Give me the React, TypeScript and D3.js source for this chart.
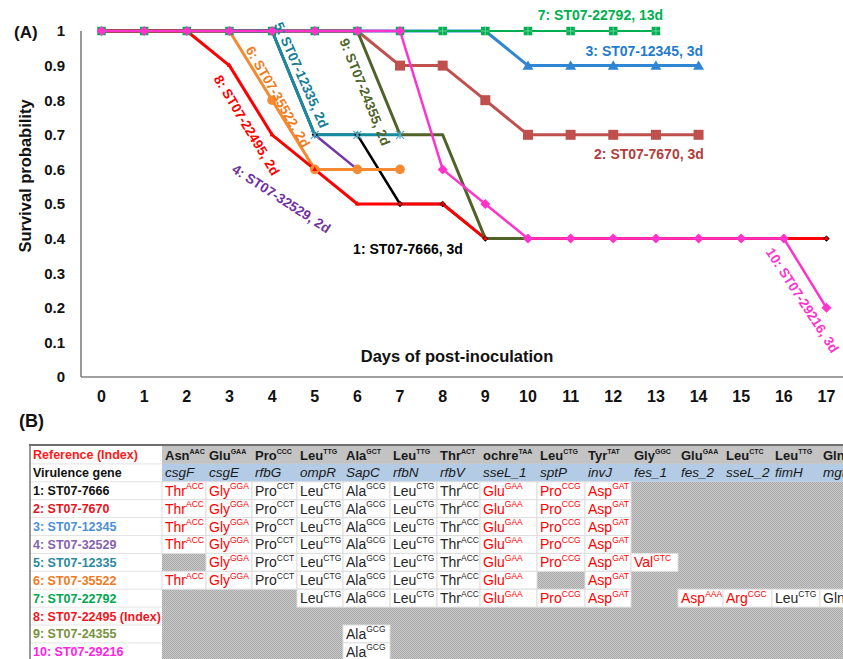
import React from 'react';
import * as d3 from 'd3';

// ---------- Chart (A) data ----------
const dayTicks = [0, 1, 2, 3, 4, 5, 6, 7, 8, 9, 10, 11, 12, 13, 14, 15, 16, 17];
const yTicks = [0, 0.1, 0.2, 0.3, 0.4, 0.5, 0.6, 0.7, 0.8, 0.9, 1];

const s1 = [1, 1, 1, 1, 1, 0.7, 0.7, 0.5, 0.5, 0.4, 0.4, 0.4, 0.4, 0.4, 0.4, 0.4, 0.4, 0.4];
const s2 = [1, 1, 1, 1, 1, 1, 1, 0.9, 0.9, 0.8, 0.7, 0.7, 0.7, 0.7, 0.7];
const s3 = [1, 1, 1, 1, 1, 1, 1, 1, 1, 1, 0.9, 0.9, 0.9, 0.9, 0.9];
const s4 = [1, 1, 1, 1, 1, 0.7, 0.6];
const s5 = [1, 1, 1, 1, 1, 0.7, 0.7, 0.7];
const s6 = [1, 1, 1, 1, 0.8, 0.6, 0.6, 0.6];
const s7 = [1, 1, 1, 1, 1, 1, 1, 1, 1, 1, 1, 1, 1, 1];
const s8 = [1, 1, 1, 0.9, 0.7, 0.6, 0.5, 0.5, 0.5, 0.4, 0.4, 0.4, 0.4, 0.4, 0.4, 0.4, 0.4, 0.4];
const s9 = [1, 1, 1, 1, 1, 1, 1, 0.7, 0.7, 0.4, 0.4];
const s10 = [1, 1, 1, 1, 1, 1, 1, 1, 0.6, 0.5, 0.4, 0.4, 0.4, 0.4, 0.4, 0.4, 0.4, 0.2];

const seriesLabels = [
  '1: ST07-7666, 3d', '2: ST07-7670, 3d', '3: ST07-12345, 3d', '4: ST07-32529, 2d',
  '5: ST07-12335, 2d', '6: ST07-35522, 2d', '7: ST07-22792, 13d', '8: ST07-22495, 2d',
  '9: ST07-24355, 2d', '10: ST07-29216, 3d',
];

// label anchor (day, survival) and rotation
const labelDay = [5.9, 11.55, 11.35, 4.22, 4.69, 4.14, 10.23, 3.41, 6.18, 16.44];
const labelVal = [0.37, 0.646, 0.943, 0.516, 0.873, 0.81, 1.046, 0.728, 0.824, 0.222];
const labelAngle = [0, 0, 0, 33, 66, 60, 0, 59, 68, 57];

// ---------- Table (B) data ----------
const aaHeader = ['Asn', 'Glu', 'Pro', 'Leu', 'Ala', 'Leu', 'Thr', 'ochre', 'Leu', 'Tyr', 'Gly', 'Glu', 'Leu', 'Leu', 'Gln'];
const codonHeader = ['AAC', 'GAA', 'CCC', 'TTG', 'GCT', 'TTG', 'ACT', 'TAA', 'CTG', 'TAT', 'GGC', 'GAA', 'CTC', 'TTG', 'CAG'];
const genes = ['csgF', 'csgE', 'rfbG', 'ompR', 'SapC', 'rfbN', 'rfbV', 'sseL_1', 'sptP', 'invJ', 'fes_1', 'fes_2', 'sseL_2', 'fimH', 'mgtC'];
const strainNames = [
  '1: ST07-7666', '2: ST07-7670', '3: ST07-12345', '4: ST07-32529', '5: ST07-12335',
  '6: ST07-35522', '7: ST07-22792', '8: ST07-22495 (Index)', '9: ST07-24355', '10: ST07-29216',
];
const strainColors = ['#111111', '#e8141c', '#4d8fd4', '#8462ad', '#2a8a9c', '#f07a22', '#00a650', '#f4141c', '#76923c', '#ff1ee6'];

const row1 = ['r Thr ACC', 'r Gly GGA', 'k Pro CCT', 'k Leu CTG', 'k Ala GCG', 'k Leu CTG', 'k Thr ACC', 'r Glu GAA', 'r Pro CCG', 'r Asp GAT', '', '', '', '', ''];
const row2 = ['r Thr ACC', 'r Gly GGA', 'k Pro CCT', 'k Leu CTG', 'k Ala GCG', 'k Leu CTG', 'k Thr ACC', 'r Glu GAA', 'r Pro CCG', 'r Asp GAT', '', '', '', '', ''];
const row3 = ['r Thr ACC', 'r Gly GGA', 'k Pro CCT', 'k Leu CTG', 'k Ala GCG', 'k Leu CTG', 'k Thr ACC', 'r Glu GAA', 'r Pro CCG', 'r Asp GAT', '', '', '', '', ''];
const row4 = ['r Thr ACC', 'r Gly GGA', 'k Pro CCT', 'k Leu CTG', 'k Ala GCG', 'k Leu CTG', 'k Thr ACC', 'r Glu GAA', 'r Pro CCG', 'r Asp GAT', '', '', '', '', ''];
const row5 = ['', 'r Gly GGA', 'k Pro CCT', 'k Leu CTG', 'k Ala GCG', 'k Leu CTG', 'k Thr ACC', 'r Glu GAA', 'r Pro CCG', 'r Asp GAT', 'r Val GTC', '', '', '', ''];
const row6 = ['r Thr ACC', 'r Gly GGA', 'k Pro CCT', 'k Leu CTG', 'k Ala GCG', 'k Leu CTG', 'k Thr ACC', 'r Glu GAA', '', 'r Asp GAT', '', '', '', '', ''];
const row7 = ['', '', '', 'k Leu CTG', 'k Ala GCG', 'k Leu CTG', 'k Thr ACC', 'r Glu GAA', 'r Pro CCG', 'r Asp GAT', '', 'r Asp AAA', 'r Arg CGC', 'k Leu CTG', 'k Gln CAG'];
const row8 = ['', '', '', '', '', '', '', '', '', '', '', '', '', '', ''];
const row9 = ['', '', '', '', 'k Ala GCG', '', '', '', '', '', '', '', '', '', ''];
const row10 = ['', '', '', '', 'k Ala GCG', '', '', '', '', '', '', '', '', '', ''];

const W = 843;
const H = 659;
const FONT = 'Liberation Sans, Arial, Helvetica, sans-serif';

const x = d3.scaleLinear().domain([0, 17]).range([101.5, 826.5]);
const y = d3.scaleLinear().domain([0, 1]).range([377, 31]);

const series = [
  { values: s1, color: '#000000', width: 2.5, marker: 'diamond', size: 3.2, mcolor: '#000000' },
  { values: s2, color: '#c0504d', width: 3, marker: 'square', size: 10, mcolor: '#c0504d' },
  { values: s3, color: '#2f86d2', width: 3, marker: 'triangle', size: 10, mcolor: '#2f86d2' },
  { values: s4, color: '#7433a6', width: 2.5, marker: 'none', size: 0, mcolor: '' },
  { values: s5, color: '#178ba0', width: 3, marker: 'star', size: 4, mcolor: '#4bacc6' },
  { values: s6, color: '#f58a32', width: 3, marker: 'circle', size: 4.8, mcolor: '#f58a32' },
  { values: s7, color: '#00b050', width: 2, marker: 'squarePlus', size: 8.5, mcolor: '#00b050' },
  { values: s8, color: '#ff0000', width: 3, marker: 'smallTri', size: 5, mcolor: '#ff0000' },
  { values: s9, color: '#4f6228', width: 3, marker: 'none', size: 0, mcolor: '' },
  { values: s10, color: '#ff33cc', width: 2.5, marker: 'diamond', size: 5, mcolor: '#ff33cc' },
];
const labelColors = ['#000000', '#b0403d', '#1f7bcf', '#7030a0', '#157e94', '#ef7d22', '#00b050', '#ff0000', '#4f6228', '#ff33cc'];

function Marker({ type, cx, cy, size, color }: { type: string; cx: number; cy: number; size: number; color: string }) {
  const s = size;
  switch (type) {
    case 'diamond':
      return <path d={`M${cx},${cy - s}L${cx + s},${cy}L${cx},${cy + s}L${cx - s},${cy}Z`} fill={color} />;
    case 'square':
      return <rect x={cx - s / 2} y={cy - s / 2} width={s} height={s} fill={color} />;
    case 'triangle':
      return <path d={`M${cx},${cy - s * 0.5}L${cx + s * 0.55},${cy + s * 0.42}L${cx - s * 0.55},${cy + s * 0.42}Z`} fill={color} />;
    case 'smallTri':
      return <path d={`M${cx},${cy - s * 0.6}L${cx + s * 0.5},${cy + s * 0.3}L${cx - s * 0.5},${cy + s * 0.3}Z`} fill={color} />;
    case 'circle':
      return <circle cx={cx} cy={cy} r={s} fill={color} />;
    case 'star':
      return (
        <g stroke={color} strokeWidth={1.2}>
          <line x1={cx - s} y1={cy - s} x2={cx + s} y2={cy + s} />
          <line x1={cx - s} y1={cy + s} x2={cx + s} y2={cy - s} />
          <line x1={cx} y1={cy - s} x2={cx} y2={cy + s} />
        </g>
      );
    case 'squarePlus':
      return (
        <g>
          <rect x={cx - s / 2} y={cy - s / 2} width={s} height={s} fill={color} />
          <line x1={cx - s / 2} y1={cy} x2={cx + s / 2} y2={cy} stroke="#7fd9a6" strokeWidth={0.8} />
          <line x1={cx} y1={cy - s / 2} x2={cx} y2={cy + s / 2} stroke="#7fd9a6" strokeWidth={0.8} />
        </g>
      );
    default:
      return null;
  }
}

const colEdges = [30, 162, 206, 252, 297, 343, 390, 437, 480, 537, 585, 631, 678, 723, 772, 820, 868];
const tableTop = 446;
const rowH = 17.9;

function Cell({ spec, x0, cy }: { spec: string; x0: number; cy: number }) {
  const [c, aa, codon] = spec.split(' ');
  const fill = c === 'r' ? '#ff0000' : '#262626';
  return (
    <text x={x0 + 3} y={cy + 5} fontSize={14} fill={fill} fontFamily={FONT}>
      {aa}
      <tspan fontSize={8.5} dy={-6.5}>{codon}</tspan>
    </text>
  );
}

export default function App() {
  const lineGen = d3.line<number>().x((_, i) => x(i)).y((d) => y(d));
  const dataRows = [row1, row2, row3, row4, row5, row6, row7, row8, row9, row10];
  const rowCy = (r: number) => tableTop + rowH * (r + 0.5);
  return (
    <svg width={W} height={H} style={{ position: 'absolute', left: 0, top: 0, background: '#fff' }} fontFamily={FONT}>
      <defs>
        <pattern id="hatch" patternUnits="userSpaceOnUse" width={2} height={2}>
          <rect width={2} height={2} fill="#c9c9c9" />
          <rect width={1} height={1} fill="#a9a9a9" />
          <rect x={1} y={1} width={1} height={1} fill="#a9a9a9" />
        </pattern>
        <clipPath id="clipAll">
          <rect x={0} y={0} width={W} height={H} />
        </clipPath>
      </defs>
      <rect width={W} height={H} fill="#fff" />

      {/* ---------- Panel A ---------- */}
      <text x={14} y={37.5} fontSize={17} fontWeight="bold" fill="#111">(A)</text>

      {/* axes */}
      <line x1={81} y1={31} x2={81} y2={377} stroke="#7f7f7f" strokeWidth={1.6} />
      <line x1={81} y1={377} x2={W} y2={377} stroke="#7f7f7f" strokeWidth={1.6} />

      {yTicks.map((v) => (
        <text key={v} x={65} y={y(v)} dy="0.36em" textAnchor="end" fontSize={15} fontWeight="bold" fill="#111">
          {String(v)}
        </text>
      ))}
      {dayTicks.map((d) => (
        <text key={d} x={x(d)} y={402} textAnchor="middle" fontSize={16} fontWeight="bold" fill="#111">
          {d}
        </text>
      ))}

      <text transform={`translate(31,176) rotate(-90)`} textAnchor="middle" fontSize={16.5} fontWeight="bold" fill="#111">
        Survival probability
      </text>
      <text x={457} y={362} textAnchor="middle" fontSize={16.5} fontWeight="bold" fill="#111">
        Days of post-inoculation
      </text>

      {/* lines */}
      {series.map((s, i) => (
        <path key={'l' + i} d={lineGen(s.values) || ''} fill="none" stroke={s.color} strokeWidth={s.width} strokeLinejoin="round" />
      ))}
      {/* markers */}
      {series.map((s, i) =>
        s.values.map((v, d) => {
          if (s.marker === 'none') return null;
          if (v === 1 && !(i === 6 || i === 9)) return null;
          return <Marker key={`m${i}-${d}`} type={s.marker} cx={x(d)} cy={y(v)} size={s.size} color={s.mcolor} />;
        })
      )}

      {/* series labels */}
      {seriesLabels.map((t, i) => {
        const px = x(labelDay[i]);
        const py = y(labelVal[i]);
        const a = labelAngle[i];
        return (
          <text
            key={'t' + i}
            transform={`translate(${px},${py}) rotate(${a})`}
            textAnchor={a === 0 ? 'start' : 'middle'}
            dy="0.36em"
            fontSize={a === 0 ? 14 : 13.6}
            fontWeight="bold"
            fill={labelColors[i]}
          >
            {t}
          </text>
        );
      })}

      {/* ---------- Panel B ---------- */}
      <text x={19} y={427} fontSize={18} fontWeight="bold" fill="#111">(B)</text>

      <g clipPath="url(#clipAll)">
        {/* hatched background for body */}
        <rect x={colEdges[1]} y={tableTop + rowH * 2} width={W - colEdges[1] + 40} height={rowH * 10} fill="url(#hatch)" />
        {/* header row 0 */}
        <rect x={colEdges[1]} y={tableTop} width={W - colEdges[1] + 40} height={rowH} fill="#c3c3c3" />
        {/* gene row */}
        <rect x={colEdges[1]} y={tableTop + rowH} width={W - colEdges[1] + 40} height={rowH} fill="#b3cbe4" />
        {/* first column white */}
        <rect x={colEdges[0]} y={tableTop} width={colEdges[1] - colEdges[0]} height={rowH * 12} fill="#ffffff" />
        {d3.range(0, 12).map((r) => (
          <line key={'fl' + r} x1={colEdges[0]} x2={colEdges[1]} y1={tableTop + rowH * (r + 1)} y2={tableTop + rowH * (r + 1)} stroke="#e4e4e4" strokeWidth={1} />
        ))}

        {/* data cells */}
        {dataRows.map((row, r) =>
          row.map((spec, c) => {
            if (!spec) return null;
            const x0 = colEdges[c + 1];
            const x1 = colEdges[c + 2];
            const y0 = tableTop + rowH * (r + 2);
            return (
              <g key={`c${r}-${c}`}>
                <rect x={x0} y={y0} width={x1 - x0} height={rowH} fill="#fff" stroke="#dedede" strokeWidth={1} />
                <Cell spec={spec} x0={x0} cy={rowCy(r + 2)} />
              </g>
            );
          })
        )}

        {/* header texts */}
        <text x={33} y={rowCy(0) + 4.5} fontSize={12.5} fontWeight="bold" fill="#ff1a1a">Reference (Index)</text>
        <text x={33} y={rowCy(1) + 4.5} fontSize={12.5} fontWeight="bold" fill="#111">Virulence gene</text>
        {aaHeader.map((aa, c) => (
          <text key={'h' + c} x={colEdges[c + 1] + 3} y={rowCy(0) + 5} fontSize={13} fontWeight="bold" fill="#1a1a1a">
            {aa}
            <tspan fontSize={7} dy={-6}>{codonHeader[c]}</tspan>
          </text>
        ))}
        {genes.map((g, c) => (
          <text key={'g' + c} x={colEdges[c + 1] + 3} y={rowCy(1) + 4.5} fontSize={13.5} fontStyle="italic" fill="#1a1a1a">
            {g}
          </text>
        ))}
        {strainNames.map((n, r) => (
          <text key={'s' + r} x={33} y={rowCy(r + 2) + 4.5} fontSize={12.5} fontWeight="bold" fill={strainColors[r]}>
            {n}
          </text>
        ))}

        {/* borders */}
        <line x1={29} y1={tableTop - 1} x2={W} y2={tableTop - 1} stroke="#6e6e6e" strokeWidth={2} />
        <line x1={30} y1={tableTop - 1} x2={30} y2={H} stroke="#6e6e6e" strokeWidth={1.4} />
      </g>
    </svg>
  );
}
